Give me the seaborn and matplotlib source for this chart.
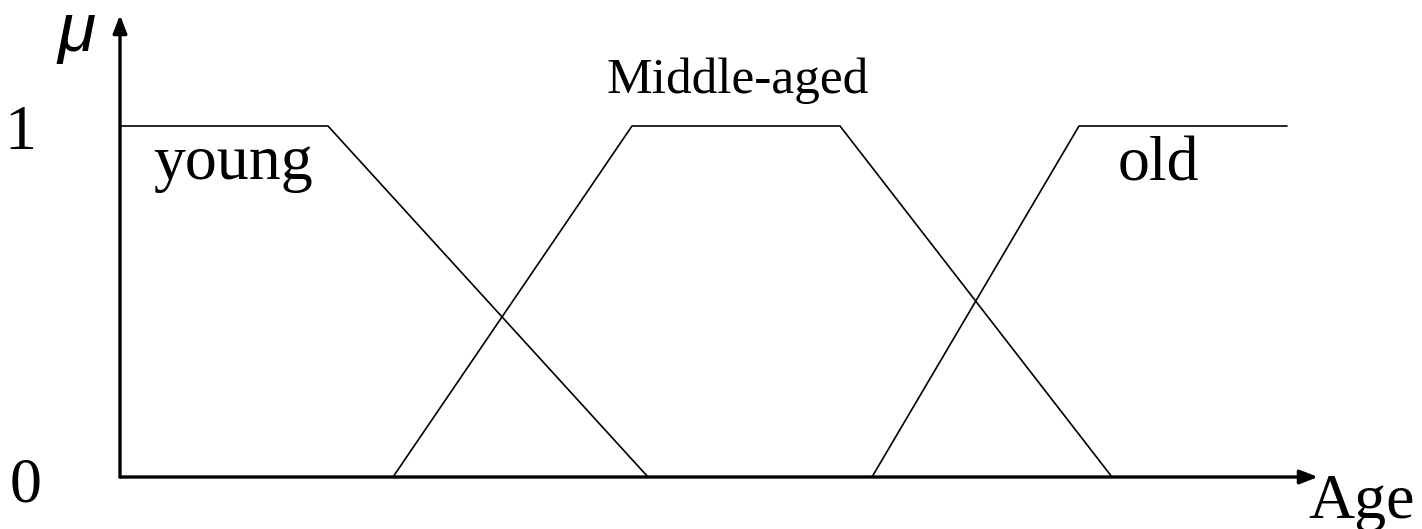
import matplotlib
matplotlib.use("Agg")
import matplotlib.pyplot as plt
import seaborn as sns
import pandas as pd

# Membership functions (age in arbitrary units, membership mu)
young_age = [0.0, 20.8, 52.8]
young_mu = [1.0, 1.0, 0.0]
middle_age = [27.3, 51.2, 72.0, 99.2]
middle_mu = [0.0, 1.0, 1.0, 0.0]
old_age = [75.2, 95.9, 116.7]
old_mu = [0.0, 1.0, 1.0]

series_names = ["young", "Middle-aged", "old"]

rows = []
for name, xs, ys in zip(series_names, [young_age, middle_age, old_age], [young_mu, middle_mu, old_mu]):
    for i, (x, y) in enumerate(zip(xs, ys)):
        rows.append({"set": name, "age": x, "mu": y, "order": i})
df = pd.DataFrame(rows)

sns.set_theme(style="white")
plt.rcParams["font.family"] = ["Liberation Serif", "DejaVu Serif"]
plt.rcParams["text.color"] = "black"

fig = plt.figure(figsize=(14.22, 5.29), dpi=100)
ax = fig.add_axes([120 / 1422, 52 / 529, (1318 - 120) / 1422, (477 - 15) / 529])

sns.lineplot(data=df, x="age", y="mu", hue="set", units="set", estimator=None, sort=False,
             palette=["black"] * 3, linewidth=1.2, legend=False, ax=ax)

ax.set_xlim(0, 119.8)
ax.set_ylim(0, 462 / 351)
for s in ax.spines.values():
    s.set_visible(False)
ax.set_xticks([])
ax.set_yticks([])
ax.set_xlabel("")
ax.set_ylabel("")

# axes with arrows
ax.annotate("", xy=(1.0, 0), xytext=(0, 0), xycoords="axes fraction", textcoords="axes fraction",
            arrowprops=dict(arrowstyle="-|>,head_length=0.9,head_width=0.35", lw=2.4, color="black",
                            shrinkA=0, shrinkB=0), annotation_clip=False)
ax.annotate("", xy=(0, 1.0), xytext=(0, 0), xycoords="axes fraction", textcoords="axes fraction",
            arrowprops=dict(arrowstyle="-|>,head_length=0.9,head_width=0.35", lw=2.4, color="black",
                            shrinkA=0, shrinkB=0), annotation_clip=False)

big = 46
ax.text(3.3, 0.849, "young", fontsize=big, ha="left", va="baseline", color="black")
ax.text(99.8, 0.846, "old", fontsize=big, ha="left", va="baseline", color="black")
ax.text(61.8, 1.094, "Middle-aged", fontsize=37, ha="center", va="baseline", color="black")
ax.text(118.8, -0.117, "Age", fontsize=big, ha="left", va="baseline", clip_on=False, color="black")
ax.text(-8.4, 0.934, "1", fontsize=big, ha="right", va="baseline", clip_on=False, color="black")
ax.text(-7.8, -0.071, "0", fontsize=big, ha="right", va="baseline", clip_on=False, color="black")
ax.text(-6.3, 1.214, "μ", fontsize=50, ha="left", va="baseline", style="italic",
        family=["Liberation Sans", "DejaVu Sans"], clip_on=False, color="black")

fig.savefig("out.png", dpi=100)
